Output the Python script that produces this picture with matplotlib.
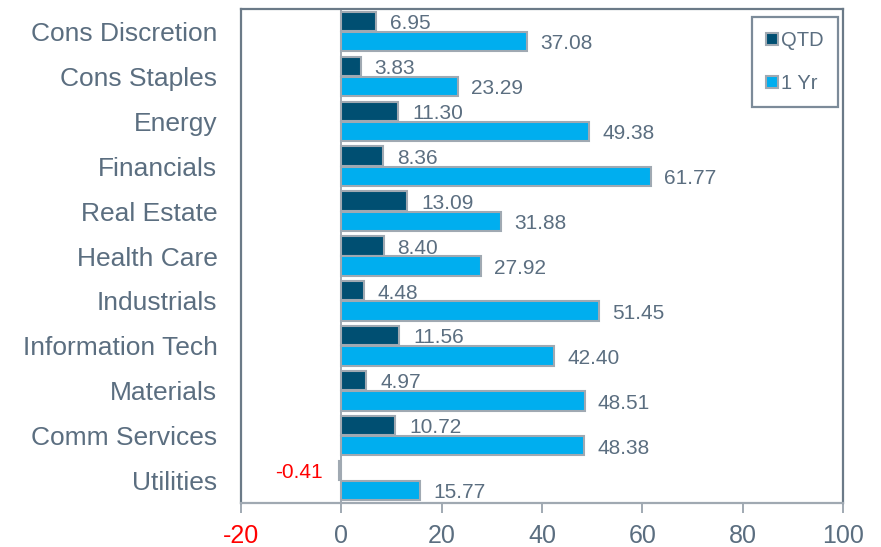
import numpy as np
import matplotlib
matplotlib.use("Agg")
import matplotlib.pyplot as plt

sectors = ["Cons Discretion", "Cons Staples", "Energy", "Financials", "Real Estate",
           "Health Care", "Industrials", "Information Tech", "Materials",
           "Comm Services", "Utilities"]
qtd = [6.95, 3.83, 11.30, 8.36, 13.09, 8.40, 4.48, 11.56, 4.97, 10.72, -0.41]
one_yr = [37.08, 23.29, 49.38, 61.77, 31.88, 27.92, 51.45, 42.40, 48.51, 48.38, 15.77]
xticks = [-20, 0, 20, 40, 60, 80, 100]

DARK, LIGHT, EDGE, INK, NEG = "#004f72", "#00aeef", "#a0a9b2", "#5b6e80", "#ff0000"

plt.rcParams["font.family"] = ["Liberation Sans", "DejaVu Sans"]

fig = plt.figure(figsize=(8.81, 5.47), dpi=100, facecolor="white")
ax = fig.add_axes([0.2736, 0.0804, 0.6833, 0.9031])

y = np.arange(len(sectors))
h, off = 0.43, 0.225
ax.barh(y - off, qtd, h, color=DARK, edgecolor=EDGE, lw=1.5, label="QTD", zorder=3)
ax.barh(y + off, one_yr, h, color=LIGHT, edgecolor=EDGE, lw=1.5, label="1 Yr", zorder=3)
ax.axvline(0, color=EDGE, lw=1.4, zorder=2)

for yi, v in zip(y, qtd):
    if v < 0:
        ax.text(v - 3.3, yi - off + 0.05, f"{v:.2f}", color=NEG, fontsize=15,
                ha="right", va="center")
    else:
        ax.text(v + 2.8, yi - off + 0.05, f"{v:.2f}", color=INK, fontsize=15,
                ha="left", va="center")
for yi, v in zip(y, one_yr):
    ax.text(v + 2.6, yi + off + 0.05, f"{v:.2f}", color=INK, fontsize=15,
            ha="left", va="center")

ax.set_xlim(-20, 100)
ax.set_ylim(len(sectors) - 0.5, -0.5)
ax.set_yticks(y)
ax.set_yticklabels(sectors, color=INK, fontsize=19)
ax.tick_params(axis="y", length=0, pad=17)
ax.set_xticks(xticks)
ax.set_xticklabels([str(t) for t in xticks], fontsize=18)
ax.tick_params(axis="x", length=7, width=1.4, color=EDGE, colors=INK, pad=8)
for lab, t in zip(ax.get_xticklabels(), xticks):
    lab.set_color(NEG if t < 0 else INK)

for name, s in ax.spines.items():
    s.set_color("#6b7a88")
    s.set_linewidth(1.6)
ax.spines["bottom"].set_color(EDGE)

leg = ax.legend(loc="upper right", bbox_to_anchor=(0.9917, 0.984), borderaxespad=0,
                fontsize=14.5, frameon=True, fancybox=False, handlelength=0.6,
                handleheight=0.6, handletextpad=0.15, labelspacing=1.2, borderpad=0.7,
                labelcolor=INK)
leg.get_frame().set_edgecolor("#5b6e80")
leg.get_frame().set_linewidth(1.6)

fig.savefig("out.png", dpi=100, facecolor="white")
